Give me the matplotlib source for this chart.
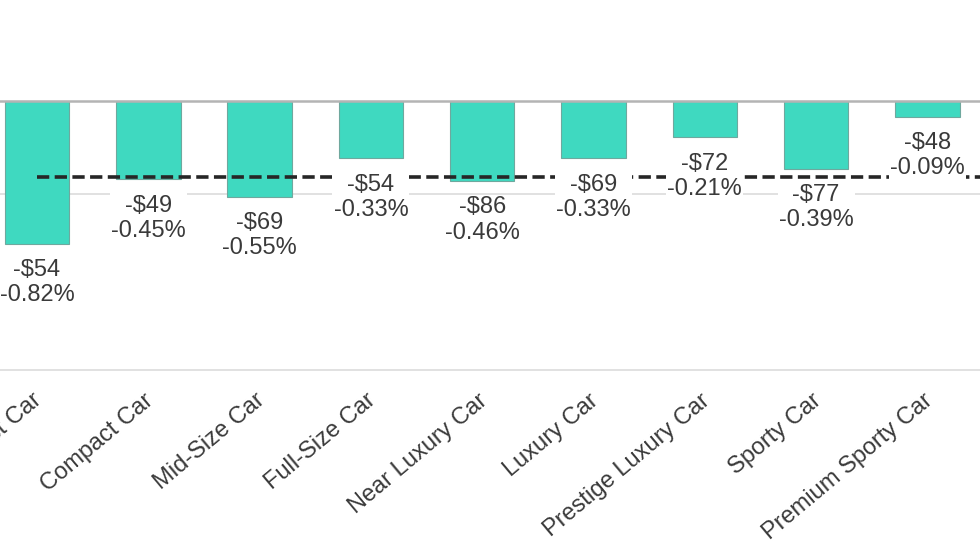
import numpy as np
import matplotlib
matplotlib.use("Agg")
import matplotlib.pyplot as plt
from matplotlib.transforms import ScaledTranslation

plt.rcParams['font.family'] = ['Liberation Sans', 'DejaVu Sans']

# data
categories = ['Subcompact Car', 'Compact Car', 'Mid-Size Car', 'Full-Size Car',
              'Near Luxury Car', 'Luxury Car', 'Prestige Luxury Car', 'Sporty Car',
              'Premium Sporty Car']
dollar_change = [-54, -49, -69, -54, -86, -69, -72, -77, -48]
pct_change = [-0.82, -0.45, -0.55, -0.33, -0.46, -0.33, -0.21, -0.39, -0.09]
avg_pct = -0.437

bar_color = '#3fd9c0'
text_color = '#3a3a3a'

fig = plt.figure(figsize=(9.8, 5.52), dpi=100)
ax = fig.add_axes([0.0, 1 - 370 / 552, 1.0, 370 / 552])

x = np.arange(len(categories))

# light gridline behind everything
ax.axhline(-0.535, color='#dcdcdc', lw=1.2, zorder=0)

ax.bar(x, pct_change, width=0.58, color=bar_color, edgecolor='#6fa89e',
       linewidth=0.8, zorder=2)
ax.axhline(0, color='#b4b4b4', lw=1.8, zorder=3)

# dashed average line, from the first category to beyond the right edge
ax.hlines(avg_pct, x[0], x[-1] + 2, colors='#262626', linestyles=(0, (3.4, 1.5)),
          lw=2.6, zorder=4)

for xi, d, p in zip(x, dollar_change, pct_change):
    ax.annotate('-${}\n{:.2f}%'.format(abs(d), p), xy=(xi, p), xytext=(0, -11),
                textcoords='offset points', ha='center', va='top',
                fontsize=17, color=text_color, linespacing=1.2, zorder=5,
                bbox=dict(boxstyle='square,pad=0.05', fc='white', ec='none'))

ax.set_xlim(-37 / 111.3, (980 - 37) / 111.3)
ax.set_ylim(-1.546, 0.58)

ax.set_xticks(x)
ax.set_xticklabels(categories, rotation=40, ha='right', va='top',
                   rotation_mode='anchor', fontsize=17, color=text_color)
ax.tick_params(axis='x', length=0, pad=14)
shift = ScaledTranslation(-5 / 100, 0, fig.dpi_scale_trans)
for lbl in ax.get_xticklabels():
    lbl.set_transform(lbl.get_transform() + shift)
ax.set_yticks([])

for side in ['top', 'left', 'right']:
    ax.spines[side].set_visible(False)
ax.spines['bottom'].set_color('#dcdcdc')
ax.spines['bottom'].set_linewidth(1.2)

fig.savefig('out.png', dpi=100)
